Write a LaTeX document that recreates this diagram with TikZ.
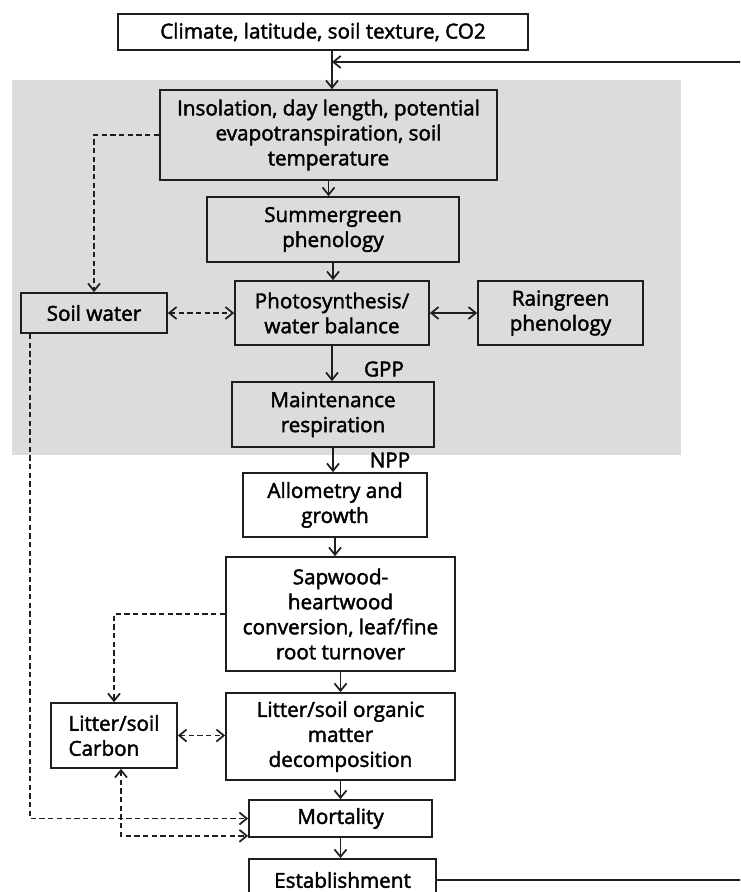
\documentclass[tikz,border=0pt]{standalone}
\usepackage{fontspec}
\setmainfont{Open Sans}[FakeBold=2]
\usetikzlibrary{arrows.meta,calc}
\definecolor{panel}{RGB}{220,220,220}
\definecolor{edge}{RGB}{30,30,30}
\begin{document}
\begin{tikzpicture}[x=0.75pt,y=-0.75pt,
  box/.style={draw=edge,line width=1.3pt,align=center,inner sep=0pt,font=\fontsize{15.5}{18.75}\selectfont},
  sz/.style 2 args={minimum width=#1*0.75pt,minimum height=#2*0.75pt},
  tip/.tip={Straight Barb[length=5.5pt,width=9pt]},
  arr/.style={-tip,line width=1.3pt,draw=edge},
  dbl/.style={tip-tip,line width=1.3pt,draw=edge},
  dsh/.style={dash pattern=on 4pt off 2.5pt},
  lbl/.style={font=\fontsize{15.5}{18}\selectfont,inner sep=0pt}]
\useasboundingbox (0,0) rectangle (740,892);
\clip (0,0) rectangle (740,892);
\fill[panel] (12,80) rectangle (681,455);

\node[box,fill=white,sz={410}{36}] (clim) at (323,32) {Climate, latitude, soil texture, CO2};
\node[box,fill=panel,sz={337}{90}] (ins) at (328.5,135) {Insolation, day length, potential\\evapotranspiration, soil\\temperature};
\node[box,fill=panel,sz={252}{65}] (summ) at (333,229.5) {Summergreen\\phenology};
\node[box,fill=panel,sz={194}{64}] (photo) at (332,313) {Photosynthesis/\\water balance};
\node[box,fill=panel,sz={146}{40}] (soil) at (94,313) {Soil water};
\node[box,fill=panel,sz={165}{64}] (rain) at (560.5,313) {Raingreen\\phenology};
\node[box,fill=panel,sz={202}{65}] (maint) at (333,414.5) {Maintenance\\respiration};
\node[box,fill=white,sz={184}{64}] (allo) at (335,505) {Allometry and\\growth};
\node[box,fill=white,sz={229}{114}] (sap) at (340.5,614) {Sapwood-\\heartwood\\conversion, leaf/fine\\root turnover};
\node[box,fill=white,sz={126}{65},align=left] (litc) at (114,735.5) {Litter/soil\\Carbon};
\node[box,fill=white,sz={229}{87}] (dec) at (340.5,736.5) {Litter/soil organic\\matter\\decomposition};
\node[box,fill=white,sz={183}{37}] (mort) at (340.5,818.5) {Mortality};
\node[box,fill=white,sz={187}{42}] (est) at (342.5,880) {Establishment};
\node[lbl] (gpp) at (384,369) {GPP};
\node[lbl] (npp) at (390,460) {NPP};

\coordinate (fbj) at (332,62);
\draw[arr] (clim.south -| fbj) -- (ins.north -| fbj);
\draw[arr] (est.east) -- ++(330,0) |- (fbj);
\draw[arr] (ins.south) -- (ins.south |- summ.north);
\draw[arr] (summ.south) -- (summ.south |- photo.north);
\draw[arr] (photo.south) -- (photo.south |- maint.north);
\draw[arr] (maint.south) -- (maint.south |- allo.north);
\draw[arr] (allo.south) -- (allo.south |- sap.north);
\draw[arr] (sap.south) -- (dec.north);
\draw[arr] (dec.south) -- (mort.north);
\draw[arr] (mort.south) -- (mort.south |- est.north);
\draw[dbl] (photo.east) -- (rain.west);
\draw[dbl,dsh] (soil.east) -- (photo.west);
\draw[arr,dsh] (ins.west) -| (soil.north);
\draw[arr,dsh] ($(soil.south west)+(10,0)$) |- (mort.west);
\draw[arr,dsh] (sap.west) -| (litc.north);
\draw[dbl,dsh] (litc.east) -- (dec.west |- litc.east);
\draw[dbl,dsh] ($(litc.south)+(7,0)$) |- ($(mort.south west)+(0,-2)$);
\end{tikzpicture}
\end{document}
